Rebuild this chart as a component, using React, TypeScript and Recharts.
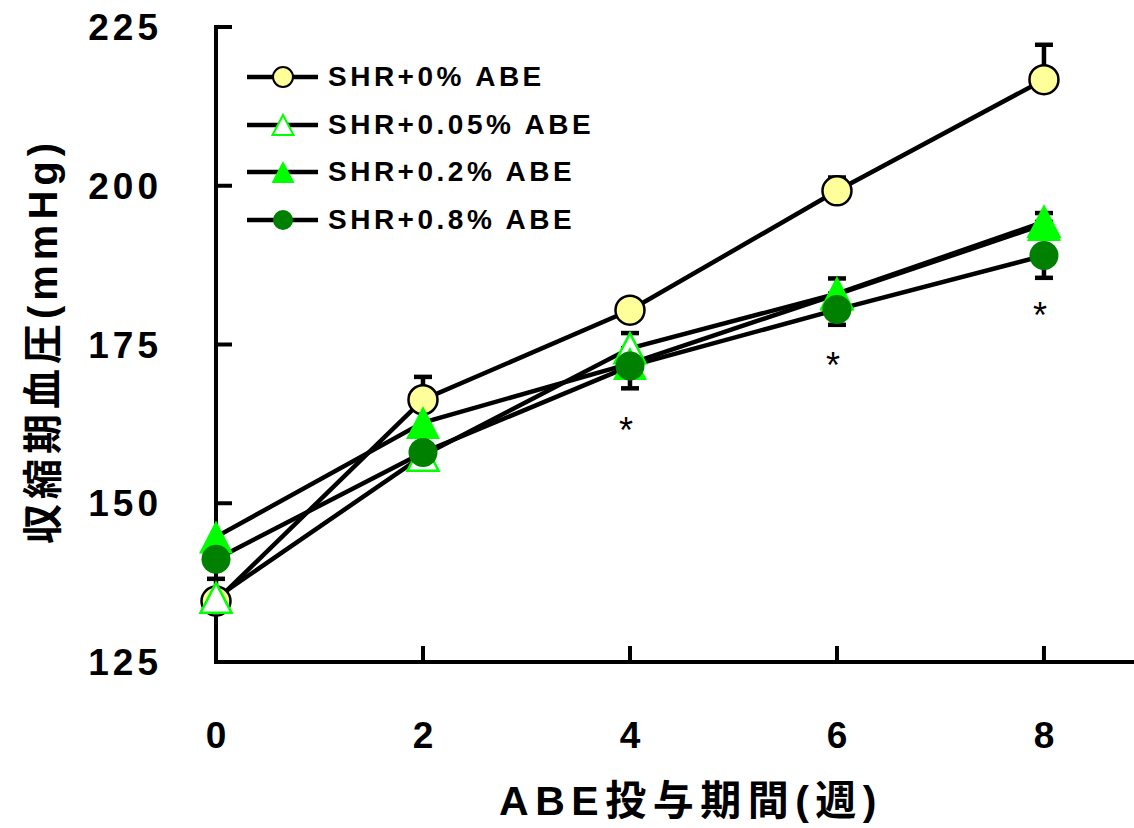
import React from "react";
import { ErrorBar, Label, Legend, Line, LineChart, XAxis, YAxis } from "recharts";

// weeks of ABE administration
const weeks = [0, 2, 4, 6, 8];
const seriesNames = ["SHR+0% ABE", "SHR+0.05% ABE", "SHR+0.2% ABE", "SHR+0.8% ABE"];

// systolic blood pressure (mmHg)
const sbp0 = [134.6, 166.3, 180.4, 199.2, 216.7];
const sbp005 = [135.1, 157.5, 174.4, 183.0, 194.3];
const sbp02 = [144.7, 162.7, 172.0, 182.9, 193.9];
const sbp08 = [141.2, 158.0, 171.6, 180.5, 189.0];

// one-sided error bars, [down, up]
const err0 = [[0, 3.5], [0, 3.6], [0, 1.5], [0, 2.1], [0, 5.5]];
const err005 = [[0, 0], [0, 0], [0, 2.4], [0, 2.4], [0, 1.4]];
const err08 = [[0, 0], [0, 0], [3.5, 0], [2.4, 0], [3.5, 0]];

// significance marks (*), placed at these values
const sigMarks = [null, null, 162.8, 173.0, 180.9];

const yTicks = [125, 150, 175, 200, 225];
const xTicks = [0, 2, 4, 6, 8];

const data = weeks.map((w, i) => ({
  week: w,
  s0: sbp0[i],
  s005: sbp005[i],
  s02: sbp02[i],
  s08: sbp08[i],
  e0: err0[i],
  e005: err005[i],
  e08: err08[i],
  sig: sigMarks[i],
}));

const FONT = '"Liberation Sans", "Noto Sans CJK JP", sans-serif';
const YELLOW = "#FFFF99";
const LIME = "#00FF00";
const DARK = "#008000";

const triPath = (cx: number, cy: number, w: number, h: number) =>
  `M${cx},${cy - h / 2} L${cx + w / 2},${cy + h / 2} L${cx - w / 2},${cy + h / 2} Z`;

const yellowDot = (p: any) => (
  <circle key={p.index} cx={p.cx} cy={p.cy} r={14.5} fill={YELLOW} stroke="#000" strokeWidth={2.5} />
);
const openTri = (p: any) => (
  <path key={p.index} d={triPath(p.cx, p.cy, 31, 30)} fill="#fff" stroke={LIME} strokeWidth={2.5} />
);
const fillTri = (p: any) => (
  <path key={p.index} d={triPath(p.cx, p.cy, 34, 33)} fill={LIME} />
);
const darkDot = (p: any) => <circle key={p.index} cx={p.cx} cy={p.cy} r={14.5} fill={DARK} />;
const starDot = (p: any) =>
  p.cy == null || isNaN(p.cy) ? (
    <g key={p.index} />
  ) : (
    <text key={p.index} x={p.cx - 4} y={p.cy + 21} textAnchor="middle" fontSize={36} fontFamily={FONT} fill="#000">
      *
    </text>
  );

const legendMarks = [
  (cx: number, cy: number) => <circle cx={cx} cy={cy} r={10} fill={YELLOW} stroke="#000" strokeWidth={2} />,
  (cx: number, cy: number) => <path d={triPath(cx, cy, 21, 20)} fill="#fff" stroke={LIME} strokeWidth={2} />,
  (cx: number, cy: number) => <path d={triPath(cx, cy, 23, 22)} fill={LIME} />,
  (cx: number, cy: number) => <circle cx={cx} cy={cy} r={10} fill={DARK} />,
];

const renderLegend = () => (
  <div>
    {seriesNames.map((name, i) => (
      <div key={name} style={{ display: "flex", alignItems: "center", height: 47.7 }}>
        <svg width={80} height={30}>
          <line x1={2} x2={73} y1={15} y2={15} stroke="#000" strokeWidth={4.5} />
          {legendMarks[i](38, 15)}
        </svg>
        <span style={{ fontFamily: FONT, fontWeight: 700, fontSize: 28, letterSpacing: 3.5, marginLeft: 3 }}>
          {name}
        </span>
      </div>
    ))}
  </div>
);

const YTick = (props: any) => {
  const { x, y, payload } = props;
  return (
    <g>
      <line x1={x} x2={x + 16} y1={y} y2={y} stroke="#000" strokeWidth={4} />
      <text x={x - 54} y={y + 13} textAnchor="end" fontSize={37} fontWeight={700} fontFamily={FONT} letterSpacing={4} fill="#000">
        {payload.value}
      </text>
    </g>
  );
};

const XTick = (props: any) => {
  const { x, y, payload } = props;
  return (
    <g>
      {payload.value !== 0 && <line x1={x} x2={x} y1={y} y2={y - 16} stroke="#000" strokeWidth={4} />}
      <text x={x} y={y + 86} textAnchor="middle" fontSize={37} fontWeight={700} fontFamily={FONT} fill="#000">
        {payload.value}
      </text>
    </g>
  );
};

const axisLine = { stroke: "#000", strokeWidth: 4, strokeLinecap: "square" as const };

export default function App() {
  return (
    <div style={{ position: "absolute", left: 0, top: 0, background: "#fff" }}>
      <LineChart width={1134} height={828} data={data} margin={{ top: 27, right: 0, left: 76, bottom: 66 }}>
        <XAxis
          dataKey="week"
          type="number"
          domain={[0, 8.87]}
          ticks={xTicks}
          height={100}
          axisLine={axisLine}
          tickLine={false}
          tickSize={0}
          tickMargin={0}
          tick={<XTick />}
        >
          <Label
            content={() => (
              <text x={691} y={815} textAnchor="middle" fontSize={41} fontWeight={700} fontFamily={FONT} letterSpacing={6.5} fill="#000">
                ABE投与期間(週)
              </text>
            )}
          />
        </XAxis>
        <YAxis
          type="number"
          domain={[125, 225]}
          ticks={yTicks}
          width={140}
          axisLine={axisLine}
          tickLine={false}
          tickSize={0}
          tickMargin={0}
          tick={<YTick />}
        >
          <Label
            content={() => (
              <text
                x={0}
                y={0}
                transform="translate(57, 341) rotate(-90)"
                textAnchor="middle"
                fontSize={40}
                fontWeight={700}
                fontFamily={FONT}
                letterSpacing={5}
                fill="#000"
              >
                収縮期血圧(mmHg)
              </text>
            )}
          />
        </YAxis>
        <Legend
          layout="vertical"
          align="center"
          verticalAlign="middle"
          content={renderLegend}
          wrapperStyle={{ position: "absolute", left: 245, top: 53, width: 400 }}
        />

        {/* connecting lines */}
        <Line dataKey="s0" stroke="#000" strokeWidth={4.5} dot={false} activeDot={false} isAnimationActive={false} />
        <Line dataKey="s005" stroke="#000" strokeWidth={4.5} dot={false} activeDot={false} isAnimationActive={false} />
        <Line dataKey="s02" stroke="#000" strokeWidth={4.5} dot={false} activeDot={false} isAnimationActive={false} />
        <Line dataKey="s08" stroke="#000" strokeWidth={4.5} dot={false} activeDot={false} isAnimationActive={false} />

        {/* error bars */}
        <Line dataKey="s0" stroke="none" dot={false} activeDot={false} isAnimationActive={false}>
          <ErrorBar dataKey="e0" direction="y" width={9} stroke="#000" strokeWidth={4.5} isAnimationActive={false} />
        </Line>
        <Line dataKey="s005" stroke="none" dot={false} activeDot={false} isAnimationActive={false}>
          <ErrorBar dataKey="e005" direction="y" width={9} stroke="#000" strokeWidth={4.5} isAnimationActive={false} />
        </Line>
        <Line dataKey="s08" stroke="none" dot={false} activeDot={false} isAnimationActive={false}>
          <ErrorBar dataKey="e08" direction="y" width={9} stroke="#000" strokeWidth={4.5} isAnimationActive={false} />
        </Line>

        {/* markers */}
        <Line dataKey="s0" stroke="none" dot={yellowDot} activeDot={false} isAnimationActive={false} />
        <Line dataKey="s005" stroke="none" dot={openTri} activeDot={false} isAnimationActive={false} />
        <Line dataKey="s02" stroke="none" dot={fillTri} activeDot={false} isAnimationActive={false} />
        <Line dataKey="s08" stroke="none" dot={darkDot} activeDot={false} isAnimationActive={false} />

        <Line dataKey="sig" stroke="none" dot={starDot} activeDot={false} isAnimationActive={false} />
      </LineChart>
    </div>
  );
}
